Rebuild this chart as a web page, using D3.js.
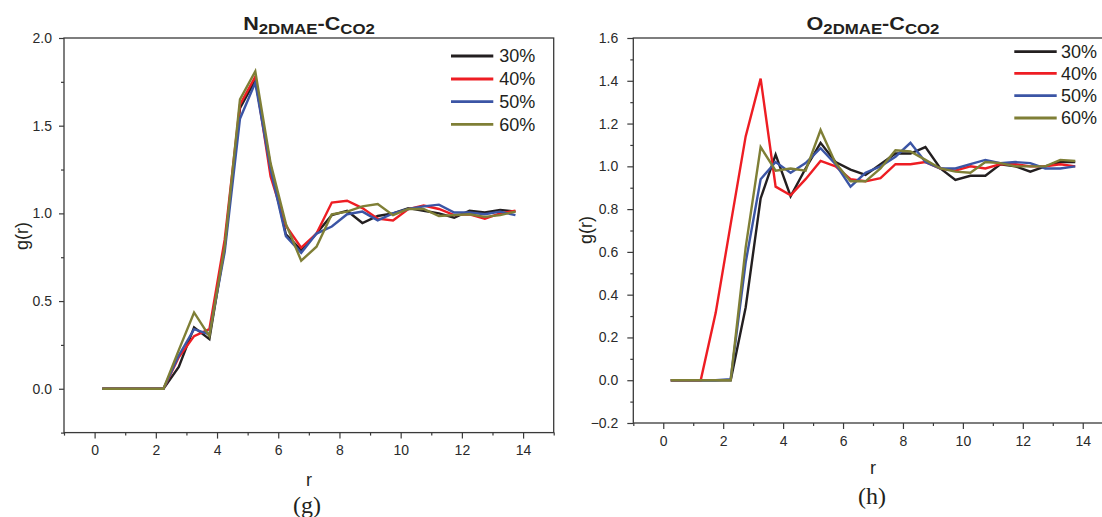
<!DOCTYPE html>
<html>
<head>
<meta charset="utf-8">
<script src="https://cdn.jsdelivr.net/npm/d3@7"></script>
<style>
  html, body { margin: 0; padding: 0; background: #fff; }
  svg { display: block; }
  text { fill: #231f20; }
</style>
</head>
<body>
<svg id="chart" width="1102" height="517"></svg>
<script>
// ---------- data ----------
const rValues = [0.25, 0.75, 1.25, 1.75, 2.25, 2.75, 3.25, 3.75, 4.25, 4.75, 5.25, 5.75, 6.25, 6.75,
                 7.25, 7.75, 8.25, 8.75, 9.25, 9.75, 10.25, 10.75, 11.25, 11.75, 12.25, 12.75, 13.25, 13.75];
const seriesNames = ["30%", "40%", "50%", "60%"];
const seriesColors = ["#231f20", "#ee1d23", "#3b55a5", "#7f7f36"];

// (g) N2DMAE - CCO2
const gN30 = [0, 0, 0, 0, 0, 0.125, 0.35, 0.283, 0.81, 1.60, 1.76, 1.27, 0.88, 0.79, 0.885, 0.99, 1.015, 0.945, 0.985, 1.0, 1.03, 1.015, 1.0, 0.975, 1.015, 1.005, 1.02, 1.01];
const gN40 = [0, 0, 0, 0, 0, 0.18, 0.30, 0.34, 0.85, 1.62, 1.78, 1.21, 0.93, 0.805, 0.885, 1.062, 1.072, 1.03, 0.97, 0.96, 1.025, 1.045, 1.025, 0.99, 0.995, 0.97, 1.0, 1.015];
const gN50 = [0, 0, 0, 0, 0, 0.19, 0.34, 0.31, 0.78, 1.54, 1.745, 1.25, 0.87, 0.775, 0.885, 0.925, 0.995, 1.01, 0.96, 1.0, 1.025, 1.04, 1.05, 1.005, 1.005, 0.995, 1.01, 0.99];
const gN60 = [0, 0, 0, 0, 0, 0.22, 0.435, 0.30, 0.81, 1.65, 1.81, 1.285, 0.94, 0.73, 0.81, 0.995, 1.01, 1.04, 1.053, 0.99, 1.025, 1.025, 0.985, 0.99, 0.995, 0.98, 0.99, 1.01];

// (h) O2DMAE - CCO2
const gO30 = [0, 0, 0, 0, 0, 0.34, 0.85, 1.055, 0.86, 0.99, 1.11, 1.02, 0.985, 0.96, 1.01, 1.06, 1.06, 1.09, 0.99, 0.936, 0.956, 0.956, 1.01, 1.0, 0.975, 1.0, 1.02, 1.02];
const gO40 = [0, 0, 0, 0.315, 0.73, 1.14, 1.41, 0.905, 0.865, 0.94, 1.025, 1.0, 0.94, 0.93, 0.945, 1.01, 1.01, 1.02, 0.99, 0.98, 1.0, 0.99, 1.01, 1.01, 1.0, 1.0, 1.01, 1.0];
const gO50 = [0, 0, 0, 0, 0.005, 0.55, 0.94, 1.02, 0.97, 1.015, 1.085, 1.01, 0.905, 0.97, 1.0, 1.045, 1.11, 1.02, 0.99, 0.99, 1.01, 1.03, 1.015, 1.02, 1.015, 0.99, 0.99, 1.0];
const gO60 = [0, 0, 0, 0, 0, 0.62, 1.09, 0.98, 0.99, 0.98, 1.17, 1.015, 0.93, 0.93, 0.99, 1.075, 1.07, 1.03, 0.99, 0.975, 0.97, 1.02, 1.015, 1.0, 1.0, 1.0, 1.03, 1.025];

const xMajorTicks = [0, 2, 4, 6, 8, 10, 12, 14];
const xMinorTicks = [-1, 1, 3, 5, 7, 9, 11, 13, 15];
const yMajorTicksG = [0.0, 0.5, 1.0, 1.5, 2.0];
const yMinorTicksG = [-0.25, 0.25, 0.75, 1.25, 1.75];
const yMajorTicksH = [-0.2, 0.0, 0.2, 0.4, 0.6, 0.8, 1.0, 1.2, 1.4, 1.6];
const yMinorTicksH = [-0.1, 0.1, 0.3, 0.5, 0.7, 0.9, 1.1, 1.3, 1.5];

const SANS = "'Liberation Sans', Arial, Helvetica, sans-serif";
const SERIF = "'Liberation Serif', 'Times New Roman', Times, serif";

// ---------- layout ----------
const panels = [
  {
    series: [gN30, gN40, gN50, gN60],
    xDomain: [-1, 15], yDomain: [-0.25, 2.0],
    left: 64, right: 553.7, top: 38, bottom: 432.6,
    yMajor: yMajorTicksG, yMinor: yMinorTicksG,
    yTickSize: 5, yPad: 7, xPad: 6,
    title: ["N", "2DMAE", "-C", "CO2"], titleX: 309, titleY: 29.5,
    legendX1: 451, legendX2: 493.3, legendTextX: 499.3, legendY: [56, 79, 101.7, 124.3],
    xLabelX: 309, xLabelY: 486, yLabelX: 28, yLabelY: 236,
    panelLabel: "(g)", panelLabelX: 307, panelLabelY: 513
  },
  {
    series: [gO30, gO40, gO50, gO60],
    xDomain: [-1, 15], yDomain: [-0.2, 1.6],
    left: 633.3, right: 1112.7, top: 38, bottom: 423,
    yMajor: yMajorTicksH, yMinor: yMinorTicksH,
    yTickSize: 6, yPad: 9, xPad: 7,
    title: ["O", "2DMAE", "-C", "CO2"], titleX: 873, titleY: 29.5,
    legendX1: 1014.3, legendX2: 1056.7, legendTextX: 1061, legendY: [51.7, 73.3, 95.7, 118],
    xLabelX: 873, xLabelY: 474, yLabelX: 592, yLabelY: 230,
    panelLabel: "(h)", panelLabelX: 872, panelLabelY: 504
  }
];

const svg = d3.select("#chart");

panels.forEach(p => {
  const x = d3.scaleLinear().domain(p.xDomain).range([p.left, p.right]);
  const y = d3.scaleLinear().domain(p.yDomain).range([p.bottom, p.top]);
  const g = svg.append("g");

  // frame
  g.append("rect")
    .attr("x", p.left).attr("y", p.top)
    .attr("width", p.right - p.left).attr("height", p.bottom - p.top)
    .attr("fill", "none").attr("stroke", "#3a3a3a").attr("stroke-width", 1.3);

  const xAx = g.append("g").attr("transform", `translate(0,${p.bottom})`)
    .call(d3.axisBottom(x).tickValues(xMajorTicks).tickSize(6).tickPadding(p.xPad).tickFormat(d3.format("d")));
  const xAxm = g.append("g").attr("transform", `translate(0,${p.bottom})`)
    .call(d3.axisBottom(x).tickValues(xMinorTicks).tickSize(3).tickFormat(""));
  const yAx = g.append("g").attr("transform", `translate(${p.left},0)`)
    .call(d3.axisLeft(y).tickValues(p.yMajor).tickSize(p.yTickSize).tickPadding(p.yPad).tickFormat(d3.format(".1f")));
  const yAxm = g.append("g").attr("transform", `translate(${p.left},0)`)
    .call(d3.axisLeft(y).tickValues(p.yMinor).tickSize(3).tickFormat(""));

  [xAx, xAxm, yAx, yAxm].forEach(a => {
    a.select(".domain").remove();
    a.selectAll(".tick line").attr("stroke", "#3a3a3a").attr("stroke-width", 1.2);
    a.selectAll(".tick text").style("font-size", "14px").style("fill", "#2a2a2a")
      .style("font-family", SANS);
  });

  // lines
  const line = d3.line().x((d, i) => x(rValues[i])).y(d => y(d));
  p.series.forEach((s, k) => {
    g.append("path").datum(s)
      .attr("d", line)
      .attr("fill", "none")
      .attr("stroke", seriesColors[k])
      .attr("stroke-width", 2.4)
      .attr("stroke-linejoin", "miter");
  });

  // legend
  seriesNames.forEach((name, k) => {
    g.append("line")
      .attr("x1", p.legendX1).attr("x2", p.legendX2)
      .attr("y1", p.legendY[k]).attr("y2", p.legendY[k])
      .attr("stroke", seriesColors[k]).attr("stroke-width", 2.8);
    g.append("text")
      .attr("x", p.legendTextX).attr("y", p.legendY[k])
      .attr("dy", "0.36em")
      .style("font-family", SANS).style("font-size", "18px")
      .text(name);
  });

  // title
  const t = g.append("text")
    .attr("text-anchor", "middle")
    .style("font-family", SANS).style("font-weight", "bold")
    .attr("transform", `translate(${p.titleX},${p.titleY}) scale(1.2,1)`);
  t.append("tspan").style("font-size", "18px").text(p.title[0]);
  t.append("tspan").style("font-size", "14px").attr("dy", 4).text(p.title[1]);
  t.append("tspan").style("font-size", "18px").attr("dy", -4).text(p.title[2]);
  t.append("tspan").style("font-size", "14px").attr("dy", 4).text(p.title[3]);

  // axis labels
  g.append("text")
    .attr("x", p.xLabelX).attr("y", p.xLabelY)
    .attr("text-anchor", "middle")
    .style("font-family", SANS).style("font-size", "18px")
    .text("r");
  g.append("text")
    .attr("transform", `translate(${p.yLabelX},${p.yLabelY}) rotate(-90)`)
    .attr("text-anchor", "middle")
    .style("font-family", SANS).style("font-size", "18px")
    .text("g(r)");

  // panel label
  g.append("text")
    .attr("x", p.panelLabelX).attr("y", p.panelLabelY)
    .attr("text-anchor", "middle")
    .style("font-family", SERIF).style("font-size", "24px")
    .text(p.panelLabel);
});
</script>
</body>
</html>
